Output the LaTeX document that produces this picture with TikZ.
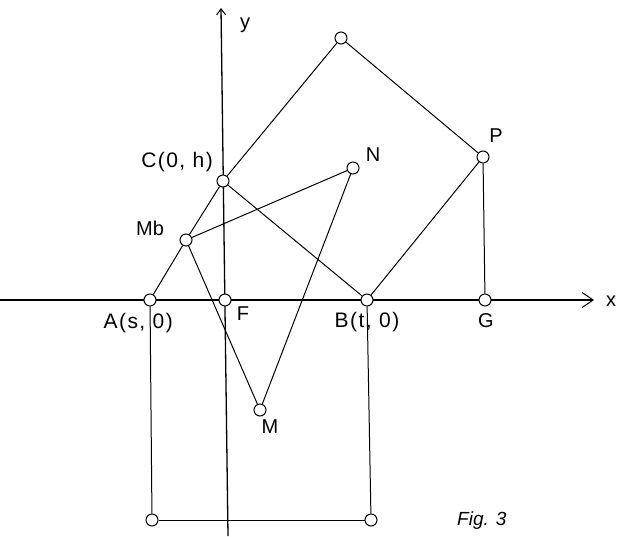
\documentclass[tikz,border=0pt]{standalone}
\usepackage{fontspec}
\setmainfont{Liberation Sans}
\usetikzlibrary{arrows.meta}
\begin{document}
\begin{tikzpicture}[x=1pt,y=-1pt,
  pt/.style={circle,draw,fill=white,inner sep=0pt,minimum size=12pt,line width=1pt},
  seg/.style={line width=1pt},
  axis/.style={line width=1.3pt},
  lbl/.style={inner sep=0pt,font=\fontsize{20}{24}\selectfont},
  coordlbl/.style={lbl,font=\fontsize{21}{25}\selectfont\addfontfeatures{LetterSpace=7}}]
\useasboundingbox (0,0) rectangle (618,536);
% axes
\coordinate (xs) at (0,300);
\coordinate (xe) at (594,300);
\coordinate (ys) at (228,536);
\coordinate (ye) at (221,8);
\draw[axis,-{Straight Barb[length=11pt,width=15pt,line width=1pt]}] (xs) -- (xe);
\draw[axis,-{Straight Barb[length=6pt,width=9pt,line width=1pt]}] (ys) -- (ye);
% points
\node[pt] (A) at (150,300) {};
\node[pt] (F) at (225,300) {};
\node[pt] (B) at (367,300) {};
\node[pt] (G) at (485,300) {};
\node[pt] (C) at (223,181) {};
\node[pt] (Mb) at (186,240) {};
\node[pt] (N) at (353,168) {};
\node[pt] (P) at (483,157) {};
\node[pt] (T) at (341,38) {};
\node[pt] (M) at (260,410) {};
\node[pt] (D1) at (152,520) {};
\node[pt] (D2) at (371,520) {};
% segments
\draw[seg] (A) -- (Mb);
\draw[seg] (Mb) -- (C);
\draw[seg] (C) -- (T);
\draw[seg] (T) -- (P);
\draw[seg] (P) -- (B);
\draw[seg] (B) -- (C);
\draw[seg] (Mb) -- (N);
\draw[seg] (Mb) -- (M);
\draw[seg] (N) -- (M);
\draw[seg] (P) -- (G);
\draw[seg] (A) -- (D1);
\draw[seg] (D1) -- (D2);
\draw[seg] (D2) -- (B);
% labels
\node[lbl,anchor=base] (ly) at (245,28) {y};
\node[lbl,anchor=base] (lx) at (611,306) {x};
\node[coordlbl,anchor=base east] (lC) at (213,167) {C(0, h)};
\node[lbl,anchor=base] (lMb) at (150,235) {Mb};
\node[coordlbl,anchor=base east] (lA) at (173,328) {A(s, 0)};
\node[lbl,anchor=base] (lF) at (243,320) {F};
\node[coordlbl,anchor=base] (lB) at (367,327) {B(t, 0)};
\node[lbl,anchor=base] (lG) at (486,327) {G};
\node[lbl,anchor=base] (lN) at (373,161) {N};
\node[lbl,anchor=base] (lP) at (496,142) {P};
\node[lbl,anchor=base] (lM) at (270,433) {M};
\node[lbl,anchor=base west,font=\fontsize{19}{22}\selectfont\itshape] (lfig) at (457,525) {Fig. 3};
\end{tikzpicture}
\end{document}
